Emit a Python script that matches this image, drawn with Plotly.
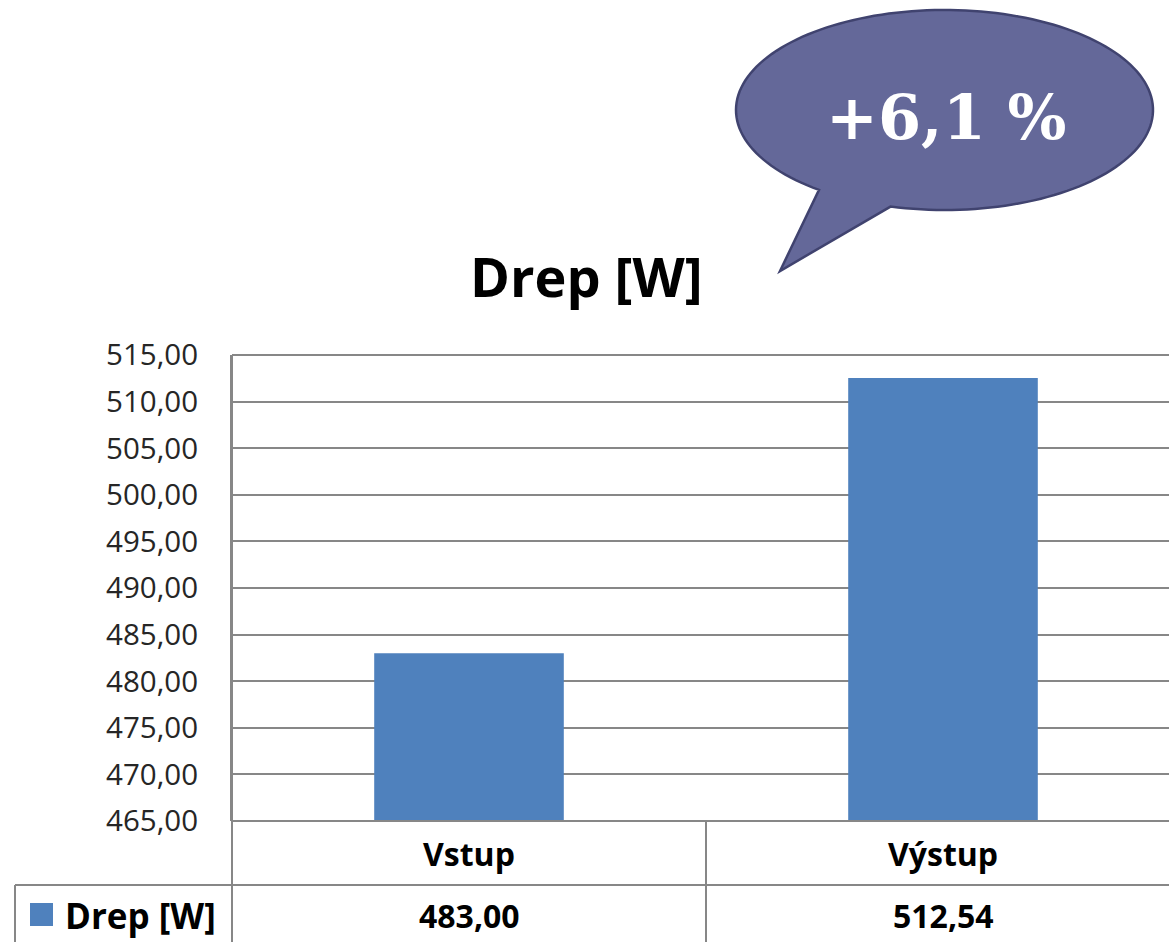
import numpy as np
import plotly.graph_objects as go

# ---- data ----
categories = ["Vstup", "Výstup"]
values = [483.00, 512.54]
series_name = "Drep [W]"
title_text = "Drep [W]"
y_ticks = [465, 470, 475, 480, 485, 490, 495, 500, 505, 510, 515]

W, H = 1169, 942
def px(x): return x / W
def py(y): return 1 - y / H

def fmt(v):
    return f"{v:.2f}".replace(".", ",")

change = (values[1] / values[0] - 1) * 100
bubble_text = "+" + f"{change:.1f}".replace(".", ",") + " %"

BAR = "#4f81bd"
GRID = "#878787"
FONT = "Open Sans"

fig = go.Figure()
fig.add_trace(go.Bar(
    x=categories, y=values, name=series_name,
    marker=dict(color=BAR, line=dict(width=0)),
    width=0.4, showlegend=False, hoverinfo="skip",
))

fig.update_layout(
    width=W, height=H,
    margin=dict(l=0, r=0, t=0, b=0, pad=0, autoexpand=False),
    paper_bgcolor="white", plot_bgcolor="white",
    separators=", ",
    xaxis=dict(domain=[px(232), 1], range=[-0.5, -0.5 + (W - 232) / 474],
               showticklabels=False, showgrid=False, zeroline=False, showline=False,
               automargin=False),
    yaxis=dict(domain=[py(821), py(355)], range=[465, 515],
               tickvals=y_ticks, tickformat=".2f",
               tickfont=dict(family=FONT, size=29.5, color="#262626"),
               showgrid=True, gridcolor=GRID, gridwidth=2,
               zeroline=False, showline=True, linecolor=GRID, linewidth=2,
               ticks="", ticklabelstandoff=26, automargin=False),
)

shapes = []
line = dict(color=GRID, width=2)
# top border of plot
shapes.append(dict(type="line", xref="paper", yref="paper", x0=px(232), x1=1, y0=py(355), y1=py(355), line=line))
# table lines
shapes.append(dict(type="line", xref="paper", yref="paper", x0=px(232), x1=1, y0=py(821), y1=py(821), line=line))
shapes.append(dict(type="line", xref="paper", yref="paper", x0=px(15), x1=1, y0=py(885), y1=py(885), line=line))
shapes.append(dict(type="line", xref="paper", yref="paper", x0=px(232), x1=px(232), y0=py(355), y1=0, line=line))
shapes.append(dict(type="line", xref="paper", yref="paper", x0=px(15), x1=px(15), y0=py(885), y1=0, line=line))
shapes.append(dict(type="line", xref="x", yref="paper", x0=0.5, x1=0.5, y0=py(821), y1=0, line=line))
# legend key
shapes.append(dict(type="rect", xref="paper", yref="paper", x0=px(30), x1=px(53), y0=py(926), y1=py(903),
                   fillcolor=BAR, line=dict(width=0)))

# speech bubble
cx, cy, rx, ry = 944.5, 110, 208.5, 100
t1 = np.deg2rad(127)
t2 = np.deg2rad(105 + 360)
ts = np.linspace(t1, t2, 160)
pts = [(cx + rx * np.cos(t), cy + ry * np.sin(t)) for t in ts]
pts.append((780, 271))
path = "M " + " L ".join(f"{px(x):.5f},{py(y):.5f}" for x, y in pts) + " Z"
shapes.append(dict(type="path", xref="paper", yref="paper", path=path,
                   fillcolor="#646899", line=dict(color="#40436f", width=2.5)))
fig.update_layout(shapes=shapes)

ann = []
ann.append(dict(text=f"<b>{title_text}</b>", xref="paper", yref="paper", x=px(586), y=py(276),
                showarrow=False, font=dict(family=FONT, size=54, color="black"),
                xanchor="center", yanchor="middle"))
ann.append(dict(text=f"<b>{bubble_text}</b>", xref="paper", yref="paper", x=px(946), y=py(118),
                showarrow=False, font=dict(family="DejaVu Serif", size=62, color="white"),
                xanchor="center", yanchor="middle"))
for c, v in zip(categories, values):
    ann.append(dict(text=f"<b>{c}</b>", xref="x", yref="paper", x=c, y=py(853),
                    showarrow=False, font=dict(family=FONT, size=32, color="black"),
                    xanchor="center", yanchor="middle"))
    ann.append(dict(text=f"<b>{fmt(v)}</b>", xref="x", yref="paper", x=c, y=py(915),
                    showarrow=False, font=dict(family=FONT, size=32, color="black"),
                    xanchor="center", yanchor="middle"))
ann.append(dict(text=f"<b>{series_name}</b>", xref="paper", yref="paper", x=px(63), y=py(915),
                showarrow=False, font=dict(family=FONT, size=35, color="black"),
                xanchor="left", yanchor="middle"))
fig.update_layout(annotations=ann)

fig.write_html("out.html")
